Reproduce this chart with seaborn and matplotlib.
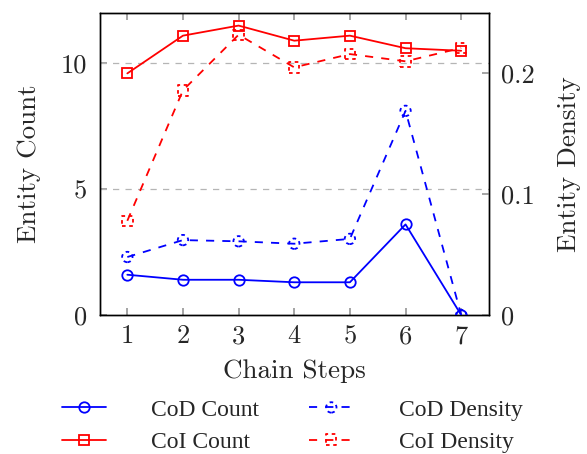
import matplotlib
matplotlib.use("Agg")
import matplotlib.pyplot as plt
import seaborn as sns
import pandas as pd
from matplotlib.lines import Line2D
from matplotlib.legend_handler import HandlerTuple

steps = [1, 2, 3, 4, 5, 6, 7]
cod_count = [1.6, 1.4, 1.4, 1.3, 1.3, 3.6, 0.0]
coi_count = [9.6, 11.1, 11.5, 10.9, 11.1, 10.6, 10.5]
cod_density = [0.048, 0.062, 0.061, 0.059, 0.063, 0.169, 0.0]
coi_density = [0.078, 0.186, 0.232, 0.205, 0.216, 0.210, 0.221]

sns.set_theme(style="white")
plt.rcParams['font.family'] = ['cmr10', 'DejaVu Serif']
plt.rcParams['axes.formatter.use_mathtext'] = True

tfs = 19
lfs = 19.5
fig = plt.figure(figsize=(5.87, 4.54), dpi=100)
ax = fig.add_axes([99.5/587, 1-315/454, (489-99.5)/587, (315-13)/454])
ax2 = ax.twinx()

df = pd.DataFrame({"step": steps, "cod_count": cod_count, "coi_count": coi_count,
                   "cod_density": cod_density, "coi_density": coi_density})

lw = 1.3
ms = 7.5
sns.lineplot(data=df, x="step", y="cod_count", ax=ax, color="blue", marker="o",
             markersize=ms, markerfacecolor="none", markeredgecolor="blue",
             markeredgewidth=lw, linewidth=lw, zorder=3)
sns.lineplot(data=df, x="step", y="coi_count", ax=ax, color="red", marker="s",
             markersize=ms, markerfacecolor="none", markeredgecolor="red",
             markeredgewidth=lw, linewidth=lw, zorder=3)
dash = (0, (4.5, 4.5))
sns.lineplot(data=df, x="step", y="cod_density", ax=ax2, color="blue",
             linewidth=lw, linestyle=dash, zorder=3)
sns.lineplot(data=df, x="step", y="coi_density", ax=ax2, color="red",
             linewidth=lw, linestyle=dash, zorder=3)
mdash = (0, (2.0, 2.0))
n0 = len(ax2.collections)
sns.scatterplot(data=df, x="step", y="cod_density", ax=ax2, marker="o", s=ms**2,
                facecolors="none", edgecolors="blue", linewidths=lw, linestyle=mdash, zorder=4)
n1 = len(ax2.collections)
sns.scatterplot(data=df, x="step", y="coi_density", ax=ax2, marker="s", s=ms**2,
                facecolors="none", edgecolors="red", linewidths=lw, linestyle=mdash, zorder=4)
m_codd = ax2.collections[n0]
m_coid = ax2.collections[n1]

ax.set_xlim(0.5, 7.5)
ax.set_ylim(0, 12)
ax2.set_ylim(0, 0.25)
ax.set_xticks(steps)
ax.set_xticklabels([str(s) for s in steps], fontsize=tfs)
ax.set_yticks([0, 5, 10])
ax.set_yticklabels(["0", "5", "10"], fontsize=tfs)
ax2.set_yticks([0, 0.1, 0.2])
ax2.set_yticklabels(["0", "0.1", "0.2"], fontsize=tfs)

for y in [5, 10]:
    ax.axhline(y, color="#b5b5b5", linestyle=(0, (5, 5)), linewidth=0.9, zorder=1)

ax.tick_params(axis="x", direction="in", top=True, bottom=True, length=5, color="#999999", pad=7)
ax.tick_params(axis="y", direction="in", left=True, length=5, color="#999999", pad=9)
ax2.tick_params(axis="y", direction="in", right=True, length=5, color="#999999", pad=9)

ax.set_xlabel("Chain Steps", fontsize=lfs, labelpad=8)
ax.set_ylabel("Entity Count", fontsize=lfs, labelpad=14)
ax2.set_ylabel("Entity Density", fontsize=lfs, labelpad=16)

for a in (ax, ax2):
    for sp in a.spines.values():
        sp.set_color("black")
        sp.set_linewidth(1.0)

# legend handles
h_cod = Line2D([], [], color="blue", marker="o", markerfacecolor="none", markersize=ms, linewidth=lw, markeredgewidth=lw)
h_coi = Line2D([], [], color="red", marker="s", markerfacecolor="none", markersize=ms, linewidth=lw, markeredgewidth=lw)
l_codd = Line2D([], [], color="blue", linewidth=lw, linestyle=dash)
l_coid = Line2D([], [], color="red", linewidth=lw, linestyle=dash)
handles = [h_cod, h_coi, (l_codd, m_codd), (l_coid, m_coid)]
labels = ["CoD Count", "CoI Count", "CoD Density", "CoI Density"]
fig.legend(handles, labels, ncol=2, loc="center", bbox_to_anchor=(292/587, 1-426/454),
           frameon=False, prop={"family": "Liberation Serif", "size": 17},
           handlelength=1.9, handletextpad=1.9, columnspacing=2.1, labelspacing=0.45,
           scatterpoints=1, scatteryoffsets=[0.5],
           handler_map={tuple: HandlerTuple(ndivide=1, pad=0)})

fig.savefig("out.png", dpi=100)
